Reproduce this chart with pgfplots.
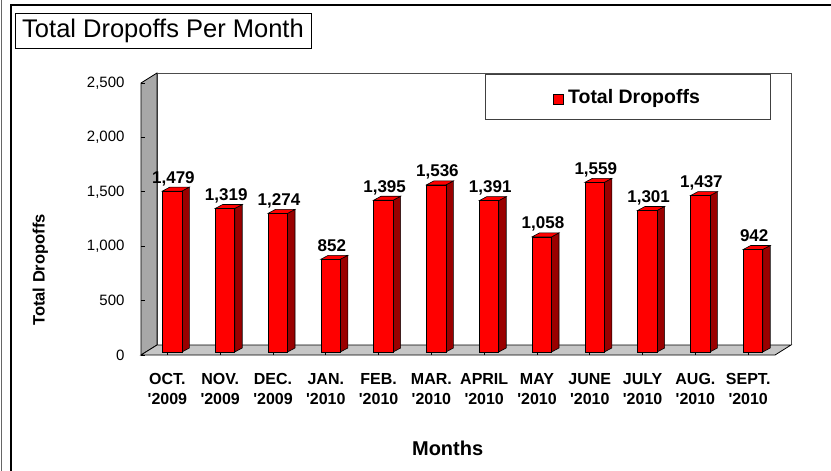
\documentclass[border=0pt]{standalone}
\usepackage{fontspec}
\setmainfont{Liberation Sans}
\usepackage{pgfplots}
\usepackage{pgfplotstable}
\pgfplotsset{compat=1.18}
\definecolor{barred}{HTML}{FF0000}
\definecolor{sidered}{HTML}{9A0000}
\definecolor{wallgray}{HTML}{A8A8A8}
\definecolor{floorgray}{HTML}{C6C6C6}

\pgfplotstableread{
x v
0 1479
1 1319
2 1274
3 852
4 1395
5 1536
6 1391
7 1058
8 1559
9 1301
10 1437
11 942
}\dropdata

\pgfdeclareplotmark{bar3d}{%
  \pgfmathsetmacro\bh{\rawv*0.1088}%
  \pgfsetlinewidth{0.6pt}%
  \pgfsetstrokecolor{black}%
  \pgfsetfillcolor{sidered}%
  \pgfpathmoveto{\pgfpoint{14.5pt}{3pt}}%
  \pgfpathlineto{\pgfpoint{22pt}{7pt}}%
  \pgfpathlineto{\pgfpoint{22pt}{7pt-\bh pt}}%
  \pgfpathlineto{\pgfpoint{14.5pt}{3pt-\bh pt}}%
  \pgfpathclose
  \pgfusepath{fill,stroke}%
  \pgfsetfillcolor{barred}%
  \pgfpathmoveto{\pgfpoint{-5pt}{3pt}}%
  \pgfpathlineto{\pgfpoint{14.5pt}{3pt}}%
  \pgfpathlineto{\pgfpoint{22pt}{7pt}}%
  \pgfpathlineto{\pgfpoint{2.5pt}{7pt}}%
  \pgfpathclose
  \pgfusepath{fill,stroke}%
  \pgfpathrectangle{\pgfpoint{-5pt}{3pt-\bh pt}}{\pgfpoint{19.5pt}{\bh pt}}%
  \pgfusepath{fill,stroke}%
}

\begin{document}
\begin{tikzpicture}
\useasboundingbox (0,0) rectangle (831pt,-471pt);
% outer frame
\draw[black!60, line width=1pt] (1pt,0) -- (1pt,-471pt);
\draw[black, line width=2pt] (11pt,-471pt) -- (11pt,-5pt) -- (831pt,-5pt);
% 3D walls
\filldraw[fill=white, draw=black!70, line width=0.8pt] (157pt,-345pt) -- (157pt,-73pt) -- (791pt,-73pt) -- (791pt,-345pt);
\filldraw[fill=wallgray, draw=black, line width=0.8pt] (141pt,-355pt) -- (141pt,-83pt) -- (157pt,-73pt) -- (157pt,-345pt) -- cycle;
\filldraw[fill=floorgray, draw=black, line width=0.8pt] (141pt,-355pt) -- (775pt,-355pt) -- (791pt,-345pt) -- (157pt,-345pt) -- cycle;
% title
\node[draw=black, line width=0.8pt, minimum width=296pt, minimum height=35pt, inner sep=0pt,
      font=\fontsize{25.5}{25.5}\selectfont] at (163pt,-30.5pt) {Total Dropoffs Per Month};
\begin{axis}[
  at={(141pt,-355pt)}, anchor=south west,
  x=52.8pt, y=0.1088pt,
  xmin=-0.5, xmax=11.5, ymin=0, ymax=2500,
  clip=false,
  axis x line*=bottom, axis y line*=left,
  axis line style={draw=none},
  tick align=inside, major tick length=4pt,
  tick style={black, line width=0.8pt},
  xtick={0,...,11},
  xticklabels={{OCT.\\\textquotesingle 2009},{NOV.\\\textquotesingle 2009},{DEC.\\\textquotesingle 2009},
    {JAN.\\\textquotesingle 2010},{FEB.\\\textquotesingle 2010},{MAR.\\\textquotesingle 2010},
    {APRIL\\\textquotesingle 2010},{MAY\\\textquotesingle 2010},{JUNE\\\textquotesingle 2010},
    {JULY\\\textquotesingle 2010},{AUG.\\\textquotesingle 2010},{SEPT.\\\textquotesingle 2010}},
  ytick={0,500,...,2500},
  scaled y ticks=false,
  /pgf/number format/1000 sep={,},
  /pgf/number format/assume math mode=true,
  yticklabel style={font=\fontsize{15}{15}\selectfont, xshift=-13pt},
  xticklabel style={font=\fontsize{16}{20}\selectfont\bfseries, align=center, yshift=-15pt},
  xlabel={Months}, ylabel={Total Dropoffs},
  every axis x label/.style={at={(axis description cs:0.484,-0.368)}, anchor=base,
    font=\fontsize{20}{20}\selectfont\bfseries},
  every axis y label/.style={at={(axis description cs:-0.159,0.3125)}, anchor=center, rotate=90,
    font=\fontsize{16.5}{16.5}\selectfont\bfseries},
  legend style={at={(axis description cs:0.768,1.0331)}, anchor=north, draw=black!75,
    line width=0.8pt, inner xsep=68pt, inner ysep=12.5pt, fill=white,
    font=\fontsize{19.5}{19.5}\selectfont\bfseries},
  legend cell align=left,
]
\addplot[scatter, only marks, mark=bar3d, forget plot,
  scatter/use mapped color={draw=black, fill=barred},
  visualization depends on={\thisrow{v} \as \rawv},
  nodes near coords={\pgfmathprintnumber[assume math mode=true, 1000 sep={,}]{\rawv}},
  nodes near coords style={anchor=base, xshift=6pt, yshift=11pt, text=black, inner sep=0pt,
    font=\fontsize{17}{17}\selectfont\bfseries},
] table[x=x, y=v] {\dropdata};
\addlegendimage{legend image code/.code={\draw[fill=barred, draw=black, line width=0.8pt] (0pt,-8pt) rectangle (10pt,2pt); \path (12pt,0pt);}}
\addlegendentry{Total Dropoffs}
\end{axis}
\end{tikzpicture}
\end{document}
